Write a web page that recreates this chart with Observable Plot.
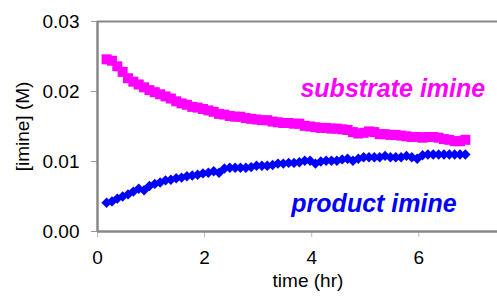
<!DOCTYPE html>
<html>
<head>
<meta charset="utf-8">
<script src="https://cdn.jsdelivr.net/npm/d3@7"></script>
<script src="https://cdn.jsdelivr.net/npm/@observablehq/plot@0.6"></script>
<style>
  html, body { margin: 0; padding: 0; background: #fff; overflow: hidden; }
</style>
</head>
<body>
<div id="chart"></div>
<script>
const time = [0.17, 0.27, 0.37, 0.47, 0.57, 0.67, 0.77, 0.87, 0.97, 1.07,
  1.17, 1.27, 1.37, 1.47, 1.57, 1.67, 1.77, 1.87, 1.97, 2.07,
  2.17, 2.27, 2.37, 2.47, 2.57, 2.67, 2.77, 2.87, 2.97, 3.07,
  3.17, 3.27, 3.37, 3.47, 3.57, 3.67, 3.77, 3.87, 3.97, 4.07,
  4.17, 4.27, 4.37, 4.47, 4.57, 4.67, 4.77, 4.87, 4.97, 5.07,
  5.17, 5.27, 5.37, 5.47, 5.57, 5.67, 5.77, 5.87, 5.97, 6.07,
  6.17, 6.27, 6.37, 6.47, 6.57, 6.67, 6.77, 6.87];

const substrate = [0.0246, 0.0244, 0.0236, 0.0228, 0.0219, 0.0214, 0.0210, 0.0206, 0.0202, 0.0199,
  0.0196, 0.0193, 0.0190, 0.0186, 0.0183, 0.0181, 0.0178, 0.0177, 0.0175, 0.0173,
  0.0171, 0.0168, 0.0167, 0.0165, 0.0164, 0.0164, 0.0162, 0.0161, 0.0160, 0.0159,
  0.0159, 0.0157, 0.0156, 0.0155, 0.0155, 0.0154, 0.0154, 0.0151, 0.0150, 0.0149,
  0.0148, 0.0148, 0.0147, 0.0147, 0.0146, 0.0145, 0.0142, 0.0140, 0.0141, 0.0143,
  0.0142, 0.0139, 0.0139, 0.0138, 0.0138, 0.0137, 0.0136, 0.0135, 0.0135, 0.0134,
  0.0135, 0.0135, 0.0134, 0.0132, 0.0131, 0.0129, 0.0129, 0.0131];

const product = [0.0041, 0.0043, 0.0047, 0.0050, 0.0053, 0.0057, 0.0061, 0.0059, 0.0065, 0.0068,
  0.0070, 0.0073, 0.0074, 0.0076, 0.0077, 0.0079, 0.0080, 0.0081, 0.0083, 0.0084,
  0.0086, 0.0084, 0.0090, 0.0091, 0.0091, 0.0091, 0.0091, 0.0092, 0.0094, 0.0094,
  0.0094, 0.0095, 0.0097, 0.0097, 0.0098, 0.0098, 0.0099, 0.0101, 0.0101, 0.0097,
  0.0100, 0.0101, 0.0101, 0.0101, 0.0103, 0.0104, 0.0101, 0.0104, 0.0106, 0.0106,
  0.0106, 0.0106, 0.0108, 0.0106, 0.0106, 0.0106, 0.0108, 0.0106, 0.0104, 0.0109,
  0.0110, 0.0110, 0.0110, 0.0110, 0.0110, 0.0110, 0.0110, 0.0110];

const xTicks = [0, 2, 4, 6];
const yTicks = [0, 0.01, 0.02, 0.03];

const rows = time.map((t, i) => ({t, s: substrate[i], p: product[i]}));

const squareSym = {draw(ctx, size) { const s = Math.sqrt(size / Math.PI); ctx.rect(-s, -s, 2 * s, 2 * s); }};
const diamondSym = {draw(ctx, size) { const s = Math.sqrt(size / Math.PI); ctx.moveTo(0, -s); ctx.lineTo(s, 0); ctx.lineTo(0, s); ctx.lineTo(-s, 0); ctx.closePath(); }};

const font = "'Liberation Sans', Arial, sans-serif";

const chart = Plot.plot({
  width: 497,
  height: 299,
  marginLeft: 97,
  marginRight: 0,
  marginTop: 21,
  marginBottom: 68,
  x: {domain: [0, 7.47]},
  y: {domain: [0, 0.03]},
  style: {fontFamily: font, background: "#fff", color: "#000"},
  marks: [
    Plot.axisY(yTicks, {tickSize: 6, tickPadding: 12, tickFormat: d3.format(".2f"), fontSize: 19, stroke: "#999", fill: "#000", label: null}),
    Plot.axisX(xTicks, {tickSize: 6, tickPadding: 13, fontSize: 19, stroke: "#bbb", fill: "#000", label: null}),
    Plot.ruleY([0.03], {stroke: "#888", strokeWidth: 2}),
    Plot.ruleY([0], {stroke: "#888", strokeWidth: 2.5}),
    Plot.ruleX([0], {stroke: "#888", strokeWidth: 2.5}),
    Plot.dot(rows, {x: "t", y: "s", symbol: squareSym, r: 5, fill: "#FF00FF", stroke: "none"}),
    Plot.dot(rows, {x: "t", y: "p", symbol: diamondSym, r: 5.2, fill: "#0000FF", stroke: "none"}),
    Plot.text(["substrate imine"], {x: 3.79, y: 0.0203, text: d => d, textAnchor: "start", fill: "#FF00FF", fontSize: 25, fontWeight: "bold", fontStyle: "italic"}),
    Plot.text(["product imine"], {x: 3.62, y: 0.0040, text: d => d, textAnchor: "start", fill: "#0000FF", fontSize: 25, fontWeight: "bold", fontStyle: "italic"}),
    Plot.text(["[imine] (M)"], {text: d => d, frameAnchor: "left", textAnchor: "middle", dx: -75, rotate: -90, fontSize: 19, fill: "#000"}),
    Plot.text(["time (hr)"], {text: d => d, x: 3.93, frameAnchor: "bottom", dy: 55.5, fontSize: 19, fill: "#000"})
  ]
});
document.getElementById("chart").appendChild(chart);
</script>
</body>
</html>
